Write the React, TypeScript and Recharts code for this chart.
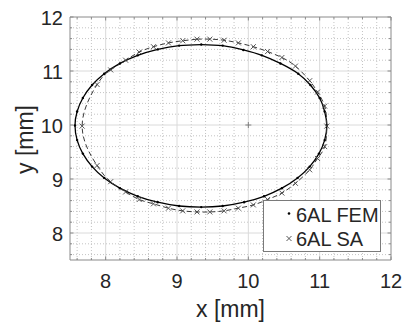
import React from 'react';
import { ComposedChart, Line, Scatter, XAxis, YAxis, ReferenceLine, Legend } from 'recharts';

// FEM contour, read clockwise starting at the top
const FEM_X = [9.34, 9.64, 9.93, 10.19, 10.45, 10.70, 10.87, 11.00, 11.07, 11.10, 11.07, 10.99, 10.86, 10.69, 10.47, 10.22, 9.94, 9.64, 9.34, 9.03, 8.73, 8.45, 8.20, 7.98, 7.81, 7.68, 7.60, 7.57, 7.60, 7.68, 7.81, 7.98, 8.20, 8.45, 8.73, 9.03, 9.34];
const FEM_Y = [11.49, 11.47, 11.39, 11.29, 11.14, 10.95, 10.74, 10.50, 10.25, 9.99, 9.72, 9.47, 9.23, 9.02, 8.83, 8.68, 8.57, 8.50, 8.48, 8.50, 8.57, 8.68, 8.83, 9.02, 9.23, 9.47, 9.72, 9.99, 10.25, 10.50, 10.74, 10.95, 11.14, 11.29, 11.40, 11.47, 11.49];

// SA markers, same order
const SA_X = [9.28, 9.46, 9.66, 9.86, 10.07, 10.27, 10.47, 10.66, 10.86, 10.97, 11.07, 11.10, 11.07, 10.97, 10.86, 10.66, 10.47, 10.27, 10.07, 9.86, 9.66, 9.46, 9.28, 9.08, 8.88, 8.67, 8.47, 8.28, 8.07, 7.88, 7.67, 7.88, 8.07, 8.28, 8.47, 8.67, 8.88, 9.08, 9.28];
const SA_Y = [11.59, 11.59, 11.57, 11.52, 11.45, 11.36, 11.25, 11.09, 10.82, 10.61, 10.35, 9.98, 9.60, 9.38, 9.17, 8.92, 8.74, 8.62, 8.52, 8.46, 8.41, 8.39, 8.39, 8.41, 8.46, 8.54, 8.62, 8.76, 8.95, 9.25, 9.98, 10.75, 11.02, 11.20, 11.35, 11.45, 11.52, 11.56, 11.59];

const CENTER_X = [10];
const CENTER_Y = [10];

const MAJOR_TICKS = [8, 9, 10, 11, 12];
const MINOR_TICKS = [7.6, 7.8, 8.2, 8.4, 8.6, 8.8, 9.2, 9.4, 9.6, 9.8, 10.2, 10.4, 10.6, 10.8, 11.2, 11.4, 11.6, 11.8];
const ALL_TICKS = [...MINOR_TICKS, ...MAJOR_TICKS].sort((a, b) => a - b);

const femData = FEM_X.map((x, i) => ({ x, y: FEM_Y[i] }));
const saData = SA_X.map((x, i) => ({ x, y: SA_Y[i] }));
const centerData = CENTER_X.map((x, i) => ({ x, y: CENTER_Y[i] }));

const W = 404;
const H = 325;
const PLOT_W = 321;
const PLOT_H = 243;
const FONT = '"Liberation Sans", Arial, sans-serif';
const AXIS = '#8a8a8a';
const TEXT = '#262626';

const XTick = (props: any) => {
  const { x, y, payload } = props;
  const major = MAJOR_TICKS.includes(payload.value);
  const len = major ? 3.5 : 2;
  return (
    <g>
      <line x1={x} x2={x} y1={y} y2={y - len} stroke={AXIS} />
      <line x1={x} x2={x} y1={y - PLOT_H} y2={y - PLOT_H + len} stroke={AXIS} />
      {major && (
        <text x={x} y={y + 28} textAnchor="middle" fontSize={20} fontFamily={FONT} fill={TEXT}>
          {payload.value}
        </text>
      )}
    </g>
  );
};

const YTick = (props: any) => {
  const { x, y, payload } = props;
  const major = MAJOR_TICKS.includes(payload.value);
  const len = major ? 3.5 : 2;
  return (
    <g>
      <line x1={x} x2={x + len} y1={y} y2={y} stroke={AXIS} />
      <line x1={x + PLOT_W} x2={x + PLOT_W - len} y1={y} y2={y} stroke={AXIS} />
      {major && (
        <text x={x - 7} y={y + 7.5} textAnchor="end" fontSize={20} fontFamily={FONT} fill={TEXT}>
          {payload.value}
        </text>
      )}
    </g>
  );
};

const Dot = (props: any) => <circle cx={props.cx} cy={props.cy} r={1.2} fill="#000" />;

const Cross = (props: any) => {
  const { cx, cy } = props;
  return <path d={`M${cx - 2.5},${cy - 2.5}L${cx + 2.5},${cy + 2.5}M${cx + 2.5},${cy - 2.5}L${cx - 2.5},${cy + 2.5}`} stroke="#444" strokeWidth={0.9} fill="none" />;
};

const Plus = (props: any) => {
  const { cx, cy } = props;
  return <path d={`M${cx - 3},${cy}H${cx + 3}M${cx},${cy - 3}V${cy + 3}`} stroke="#777" strokeWidth={0.9} fill="none" />;
};

const LegendBox = () => (
  <div style={{ position: 'relative', width: 118, height: 52, boxSizing: 'border-box', border: '1px solid #7a7a7a', background: '#fff', fontFamily: FONT, fontSize: 20, color: TEXT }}>
    <svg width={118} height={52} style={{ position: 'absolute', left: -1, top: -1 }}>
      <circle cx={26} cy={13.5} r={1.3} fill="#000" />
      <path d="M23.5,36 L28.5,41 M28.5,36 L23.5,41" stroke="#444" strokeWidth={0.9} />
    </svg>
    <div style={{ position: 'absolute', left: 32, top: 3, lineHeight: '22px', whiteSpace: 'nowrap' }}>6AL FEM</div>
    <div style={{ position: 'absolute', left: 32, top: 27, lineHeight: '22px', whiteSpace: 'nowrap' }}>6AL SA</div>
  </div>
);

const XTitle = (props: any) => {
  const vb = props.viewBox;
  return (
    <text x={vb.x + vb.width / 2} y={vb.y + 57} textAnchor="middle" fontSize={23} fontFamily={FONT} fill={TEXT}>
      x [mm]
    </text>
  );
};

const YTitle = (props: any) => {
  const vb = props.viewBox;
  const cx = 33;
  const cy = vb.y + vb.height / 2 + 1;
  return (
    <text x={cx} y={cy} transform={`rotate(-90 ${cx} ${cy})`} textAnchor="middle" fontSize={23} fontFamily={FONT} fill={TEXT}>
      y [mm]
    </text>
  );
};

export default function App() {
  return (
    <div style={{ width: W, height: H, background: '#fff' }}>
      <style>{'body{margin:0}'}</style>
      <ComposedChart width={W} height={H} margin={{ top: 17, right: 13, left: 0, bottom: 0 }}>
        <XAxis
          dataKey="x"
          type="number"
          domain={[7.5, 12]}
          allowDataOverflow
          ticks={ALL_TICKS}
          interval={0}
          tickSize={0}
          tickMargin={0}
          tickLine={false}
          tick={<XTick />}
          axisLine={{ stroke: AXIS }}
          height={65}
          label={{ content: XTitle }}
        />
        <YAxis
          dataKey="y"
          type="number"
          domain={[7.5, 12]}
          allowDataOverflow
          ticks={ALL_TICKS}
          interval={0}
          tickSize={0}
          tickMargin={0}
          tickLine={false}
          tick={<YTick />}
          axisLine={{ stroke: AXIS }}
          width={70}
          label={{ content: YTitle }}
        />
        {MINOR_TICKS.map((v) => (
          <ReferenceLine key={`mx${v}`} x={v} stroke="#c4c4c4" strokeDasharray="1 2" />
        ))}
        {MINOR_TICKS.map((v) => (
          <ReferenceLine key={`my${v}`} y={v} stroke="#c4c4c4" strokeDasharray="1 2" />
        ))}
        {MAJOR_TICKS.slice(0, -1).map((v) => (
          <ReferenceLine key={`Mx${v}`} x={v} stroke="#dadada" />
        ))}
        {MAJOR_TICKS.slice(0, -1).map((v) => (
          <ReferenceLine key={`My${v}`} y={v} stroke="#dadada" />
        ))}
        <ReferenceLine x={12} stroke={AXIS} />
        <ReferenceLine y={12} stroke={AXIS} />
        <Line data={femData} dataKey="y" type="natural" stroke="#000" strokeWidth={1.3} dot={false} activeDot={false} isAnimationActive={false} />
        <Line data={saData} dataKey="y" type="natural" stroke="#3a3a3a" strokeWidth={1} strokeDasharray="5 3" dot={false} activeDot={false} isAnimationActive={false} />
        <Scatter data={femData.slice(0, -1)} shape={<Dot />} isAnimationActive={false} />
        <Scatter data={saData.slice(0, -1)} shape={<Cross />} isAnimationActive={false} />
        <Scatter data={centerData} shape={<Plus />} isAnimationActive={false} />
        <Legend
          content={<LegendBox />}
          layout="vertical"
          align="center"
          verticalAlign="middle"
          wrapperStyle={{ left: 263, top: 200, width: 118, height: 52 }}
        />
      </ComposedChart>
    </div>
  );
}
